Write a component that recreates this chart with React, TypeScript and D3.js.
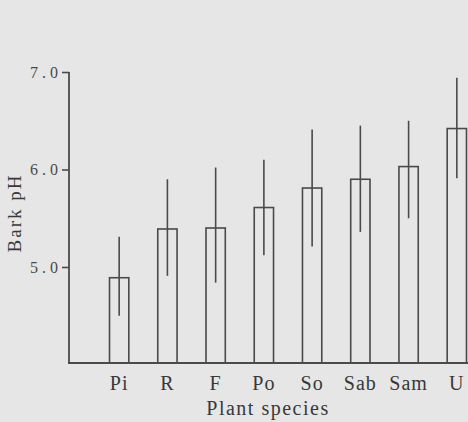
import { useEffect, useRef } from 'react';
import * as d3 from 'd3';

const species = ['Pi', 'R', 'F', 'Po', 'So', 'Sab', 'Sam', 'U'];
const meanPH = [4.89, 5.39, 5.40, 5.61, 5.81, 5.90, 6.03, 6.42];
const errLow = [4.50, 4.91, 4.84, 5.12, 5.21, 5.36, 5.50, 5.91];
const errHigh = [5.31, 5.90, 6.02, 6.10, 6.41, 6.45, 6.50, 6.94];
const yTicks = [5.0, 6.0, 7.0];

export default function App() {
  const svgRef = useRef<SVGSVGElement>(null);

  useEffect(() => {
    const svg = d3.select(svgRef.current);
    svg.selectAll('*').remove();

    const width = 468;
    const height = 422;
    const ink = '#4a4a4a';
    const textInk = '#383838';
    const font = '"Liberation Serif", "DejaVu Serif", serif';

    svg.attr('width', width).attr('height', height);

    svg.append('rect')
      .attr('width', width)
      .attr('height', height)
      .attr('fill', '#e6e6e6');

    const x = d3.scaleBand<string>()
      .domain(species)
      .range([69, 507])
      .paddingInner(0.6)
      .paddingOuter(0.84);

    const y = d3.scaleLinear()
      .domain([4, 7])
      .range([364.5, 72]);

    const baseY = 363;

    // bars
    svg.selectAll('.bar')
      .data(species)
      .join('rect')
      .attr('class', 'bar')
      .attr('x', d => x(d)!)
      .attr('y', (d, i) => y(meanPH[i]))
      .attr('width', x.bandwidth())
      .attr('height', (d, i) => baseY - y(meanPH[i]))
      .attr('fill', 'none')
      .attr('stroke', ink)
      .attr('stroke-width', 1.6);

    // error bars (no caps)
    svg.selectAll('.err')
      .data(species)
      .join('line')
      .attr('class', 'err')
      .attr('x1', d => x(d)! + x.bandwidth() / 2)
      .attr('x2', d => x(d)! + x.bandwidth() / 2)
      .attr('y1', (d, i) => y(errLow[i]))
      .attr('y2', (d, i) => y(errHigh[i]))
      .attr('stroke', ink)
      .attr('stroke-width', 1.6);

    // y axis
    const yAxis = svg.append('g')
      .attr('transform', 'translate(69,0)')
      .call(d3.axisLeft(y).tickValues(yTicks).tickSize(7).tickPadding(0).tickFormat(d3.format('.1f')));
    yAxis.select('.domain').remove();
    yAxis.selectAll('line').attr('stroke', ink).attr('stroke-width', 1.6);
    yAxis.selectAll('text')
      .attr('fill', '#4a4a4a')
      .style('font-family', font)
      .style('font-size', '16px')
      .style('letter-spacing', '4px');

    svg.append('line')
      .attr('x1', 69).attr('x2', 69)
      .attr('y1', y(7)).attr('y2', baseY)
      .attr('stroke', ink)
      .attr('stroke-width', 1.8);

    // x axis
    svg.append('line')
      .attr('x1', 68).attr('x2', width)
      .attr('y1', baseY).attr('y2', baseY)
      .attr('stroke', ink)
      .attr('stroke-width', 2);

    svg.selectAll('.xlab')
      .data(species)
      .join('text')
      .attr('class', 'xlab')
      .attr('x', d => x(d)! + x.bandwidth() / 2)
      .attr('y', 390)
      .attr('text-anchor', 'middle')
      .attr('fill', textInk)
      .style('font-family', font)
      .style('font-size', '20px')
      .style('letter-spacing', '1px')
      .text(d => d);

    svg.append('text')
      .attr('x', 268)
      .attr('y', 415)
      .attr('text-anchor', 'middle')
      .attr('fill', textInk)
      .style('font-family', font)
      .style('font-size', '20px')
      .style('letter-spacing', '1.5px')
      .text('Plant species');

    svg.append('text')
      .attr('transform', 'translate(21,213) rotate(-90)')
      .attr('text-anchor', 'middle')
      .attr('fill', textInk)
      .style('font-family', font)
      .style('font-size', '19px')
      .style('letter-spacing', '2px')
      .text('Bark pH');
  }, []);

  return <svg ref={svgRef} style={{ position: 'absolute', left: 0, top: 0, display: 'block' }} />;
}
